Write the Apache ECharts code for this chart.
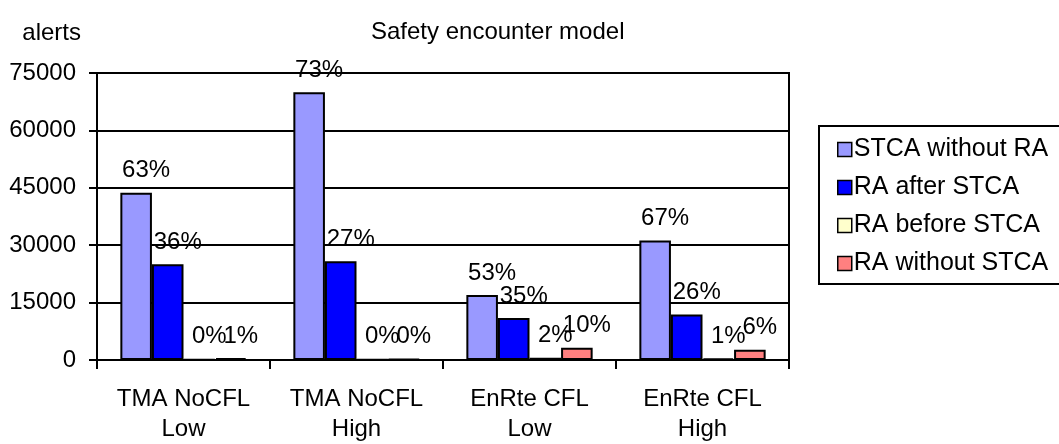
<!DOCTYPE html>
<html>
<head>
<meta charset="utf-8">
<title>Safety encounter model</title>
<script src="https://cdn.jsdelivr.net/npm/echarts@6/dist/echarts.min.js"></script>
<style>
  html, body { margin: 0; padding: 0; background: #fff; }
  #chart { width: 1059px; height: 444px; }
</style>
</head>
<body>
<div id="chart"></div>
<script>
// categories and counts
var categories = ["TMA NoCFL\nLow", "TMA NoCFL\nHigh", "EnRte CFL\nLow", "EnRte CFL\nHigh"];
var seriesNames = ["STCA without RA", "RA after STCA", "RA before STCA", "RA without STCA"];

var stcaWithoutRa = [43700, 70000, 17000, 31200];
var raAfterStca = [25000, 25800, 11000, 11900];
var raBeforeStca = [150, 100, 600, 450];
var raWithoutStca = [500, 200, 3200, 2700];

// the percent labels printed above the bars
var stcaWithoutRaPct = ["63%", "73%", "53%", "67%"];
var raAfterStcaPct = ["36%", "27%", "35%", "26%"];
var raBeforeStcaPct = ["0%", "0%", "2%", "1%"];
var raWithoutStcaPct = ["1%", "0%", "10%", "6%"];

var yTicks = [0, 15000, 30000, 45000, 60000, 75000];

var font = "Liberation Sans, Arial, sans-serif";

function makeSeries(name, values, pct, color) {
  return {
    name: name,
    type: "bar",
    data: values,
    barGap: "0%",
    barCategoryGap: "27%",
    itemStyle: {
      color: color,
      borderColor: "#000",
      borderWidth: 2
    },
    label: {
      show: true,
      position: "top",
      distance: 10,
      offset: [10, 0],
      color: "#000",
      fontSize: 24,
      fontFamily: font,
      formatter: function (p) {
        return pct[p.dataIndex];
      }
    }
  };
}

var myChart = echarts.init(document.getElementById("chart"));
var option = {
  animation: false,
  backgroundColor: "#fff",
  title: {
    text: "Safety encounter model",
    left: 366,
    top: 15,
    textStyle: {
      fontSize: 24,
      fontWeight: "normal",
      color: "#000",
      fontFamily: font
    }
  },
  legend: {
    orient: "vertical",
    left: 819,
    top: 126,
    padding: [11, 24, 8, 18],
    itemGap: 13,
    itemWidth: 14,
    itemHeight: 14,
    icon: "rect",
    borderColor: "#000",
    borderWidth: 2,
    backgroundColor: "#fff",
    itemStyle: {
      borderColor: "#000",
      borderWidth: 1.5
    },
    textStyle: {
      fontSize: 25,
      color: "#000",
      fontFamily: font,
      padding: [0, 0, 0, -3]
    },
    data: seriesNames
  },
  grid: {
    left: 97,
    right: 270,
    top: 73,
    bottom: 79,
    show: true,
    borderColor: "#000",
    borderWidth: 2
  },
  xAxis: {
    type: "category",
    data: categories,
    axisLine: { lineStyle: { color: "#000", width: 2 } },
    axisTick: { show: true, length: 9, lineStyle: { color: "#000", width: 2 } },
    axisLabel: {
      interval: 0,
      color: "#000",
      fontSize: 24,
      fontFamily: font,
      lineHeight: 30,
      margin: 24
    }
  },
  yAxis: {
    type: "value",
    min: yTicks[0],
    max: yTicks[yTicks.length - 1],
    interval: yTicks[1] - yTicks[0],
    name: "alerts",
    nameLocation: "end",
    nameGap: 28,
    nameTextStyle: {
      color: "#000",
      fontSize: 24,
      fontFamily: font,
      align: "right",
      padding: [0, 16, 0, 0]
    },
    axisLine: { show: true, lineStyle: { color: "#000", width: 2 } },
    axisTick: { show: true, length: 8, lineStyle: { color: "#000", width: 2 } },
    axisLabel: {
      color: "#000",
      fontSize: 24,
      fontFamily: font,
      margin: 21,
      formatter: function (v) {
        return String(v);
      }
    },
    splitLine: { show: true, lineStyle: { color: "#000", width: 2 } }
  },
  series: [
    makeSeries(seriesNames[0], stcaWithoutRa, stcaWithoutRaPct, "#9999ff"),
    makeSeries(seriesNames[1], raAfterStca, raAfterStcaPct, "#0000ff"),
    makeSeries(seriesNames[2], raBeforeStca, raBeforeStcaPct, "#ffffcc"),
    makeSeries(seriesNames[3], raWithoutStca, raWithoutStcaPct, "#ff8080")
  ]
};
myChart.setOption(option);
</script>
</body>
</html>
